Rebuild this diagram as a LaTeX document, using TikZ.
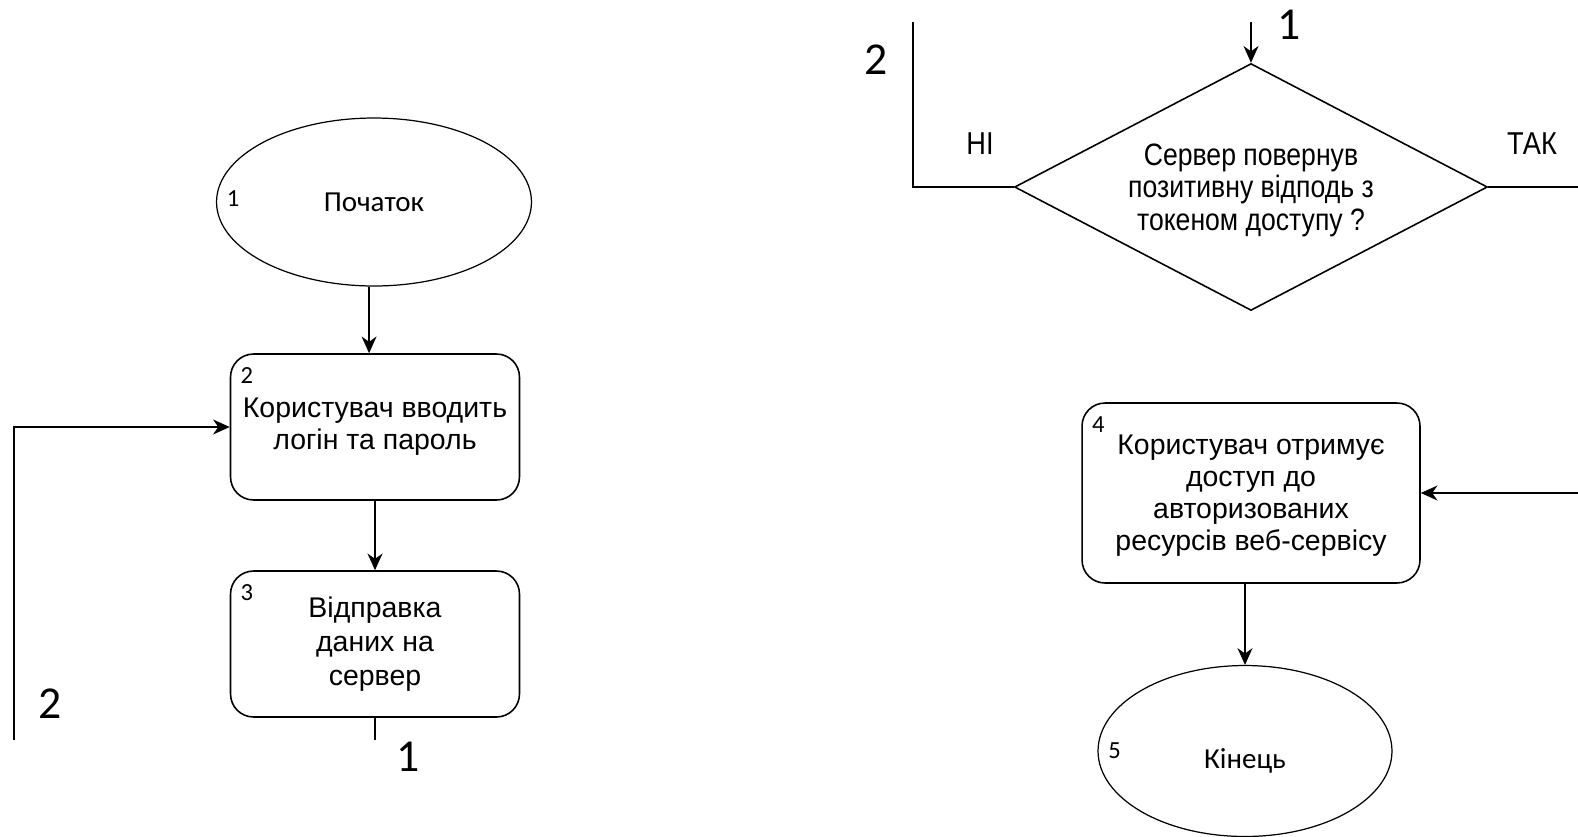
\documentclass[tikz,border=0pt]{standalone}
\usepackage{fontspec}
\setmainfont{Liberation Sans}
\newfontfamily\numfont{Carlito}
\newfontfamily\narrowfont[FakeStretch=0.86]{Liberation Sans}
\usetikzlibrary{arrows.meta, positioning, shapes.geometric}

\tikzset{
  term/.style={draw, ellipse, line width=0.7pt, inner sep=0pt,
    font=\numfont\fontsize{16.5}{19}\selectfont},
  block/.style={draw, rounded corners=0.46cm, line width=0.9pt,
    align=center, font=\fontsize{16.2}{18.2}\selectfont},
  decide/.style={draw, diamond, aspect=1.92, inner sep=0pt, line width=0.9pt,
    align=center, font=\narrowfont\fontsize{17.6}{18.4}\selectfont},
  numlbl/.style={font=\numfont\fontsize{14}{16}\selectfont, inner sep=2pt},
  bignum/.style={font=\numfont\fontsize{26}{30}\selectfont},
  branch/.style={font=\narrowfont\fontsize{18}{20}\selectfont},
  arr/.style={line width=0.9pt, -{Stealth[length=9.5pt, width=8.5pt, inset=3pt]}},
  link/.style={line width=0.9pt},
}

\begin{document}
\begin{tikzpicture}[x=0.02cm, y=-0.02cm]
  \useasboundingbox (0,0) rectangle (1578,836);

  % ── Left column ──────────────────────────────────────────────────────────
  \node[term, minimum width=6.3cm, minimum height=3.36cm,
        label={[numlbl, anchor=west, xshift=4pt, yshift=2pt]west:1}]
    (start) at (374,202) {Початок};
  \node[block, minimum width=5.78cm, minimum height=2.92cm,
        label={[numlbl, anchor=north west, xshift=4pt, yshift=-6pt]north west:2}]
    (b2) at (375,427) {Користувач вводить\\логін та пароль};
  \node[block, minimum width=5.78cm, minimum height=2.92cm,
        font=\fontsize{16.2}{19.3}\selectfont,
        label={[numlbl, anchor=north west, xshift=4pt, yshift=-6pt]north west:3}]
    (b3) at (375,644) {Відправка\\даних на\\сервер};

  \coordinate (off1) at (375,740);
  \coordinate (off2) at (14,740);
  \node[bignum] (lblA) at (408,757) {1};
  \node[bignum] (lblB) at (50,704) {2};

  \draw[arr] ([xshift=-2.8pt]start.south) -- ([xshift=-2.8pt]start.south |- b2.north);
  \draw[arr] (b2) -- (b3);
  \draw[link] (b3) -- (off1);
  \draw[arr] (off2) |- (b2.west);

  % ── Right column ─────────────────────────────────────────────────────────
  \node[decide, minimum width=9.46cm, minimum height=4.94cm, text depth=0pt]
    (dec) at (1251,187) {Сервер повернув\\позитивну відподь з\\токеном доступу ?};
  \node[block, minimum width=6.76cm, minimum height=3.6cm,
        text depth=-3.4pt,
        label={[numlbl, anchor=north west, xshift=4pt, yshift=-6pt]north west:4}]
    (b4) at (1251,493) {Користувач отримує\\доступ до\\авторизованих\\ресурсів веб-сервісу};
  \node[term, minimum width=5.88cm, minimum height=3.42cm,
        text height=20pt, text depth=0pt,
        label={[numlbl, anchor=west, xshift=4pt]west:5}]
    (end) at (1245,751) {Кінець};

  \coordinate (in1) at (1251,22);
  \coordinate (in2) at (913,22);
  \coordinate (yes) at (1578,187);
  \coordinate (back) at (1578,493);
  \node[bignum] (lblC) at (1289,25) {1};
  \node[bignum] (lblD) at (876,60) {2};
  \node[branch] (no) at (980,144) {НІ};
  \node[branch] (tak) at (1532,144) {ТАК};

  \draw[arr] (in1) -- (dec);
  \draw[link] (dec.west) -| (in2);
  \draw[link] (dec.east) -- (yes);
  \draw[arr] (back) -- (b4.east);
  \draw[arr] (b4.south -| end.north) -- (end.north);
\end{tikzpicture}
\end{document}
